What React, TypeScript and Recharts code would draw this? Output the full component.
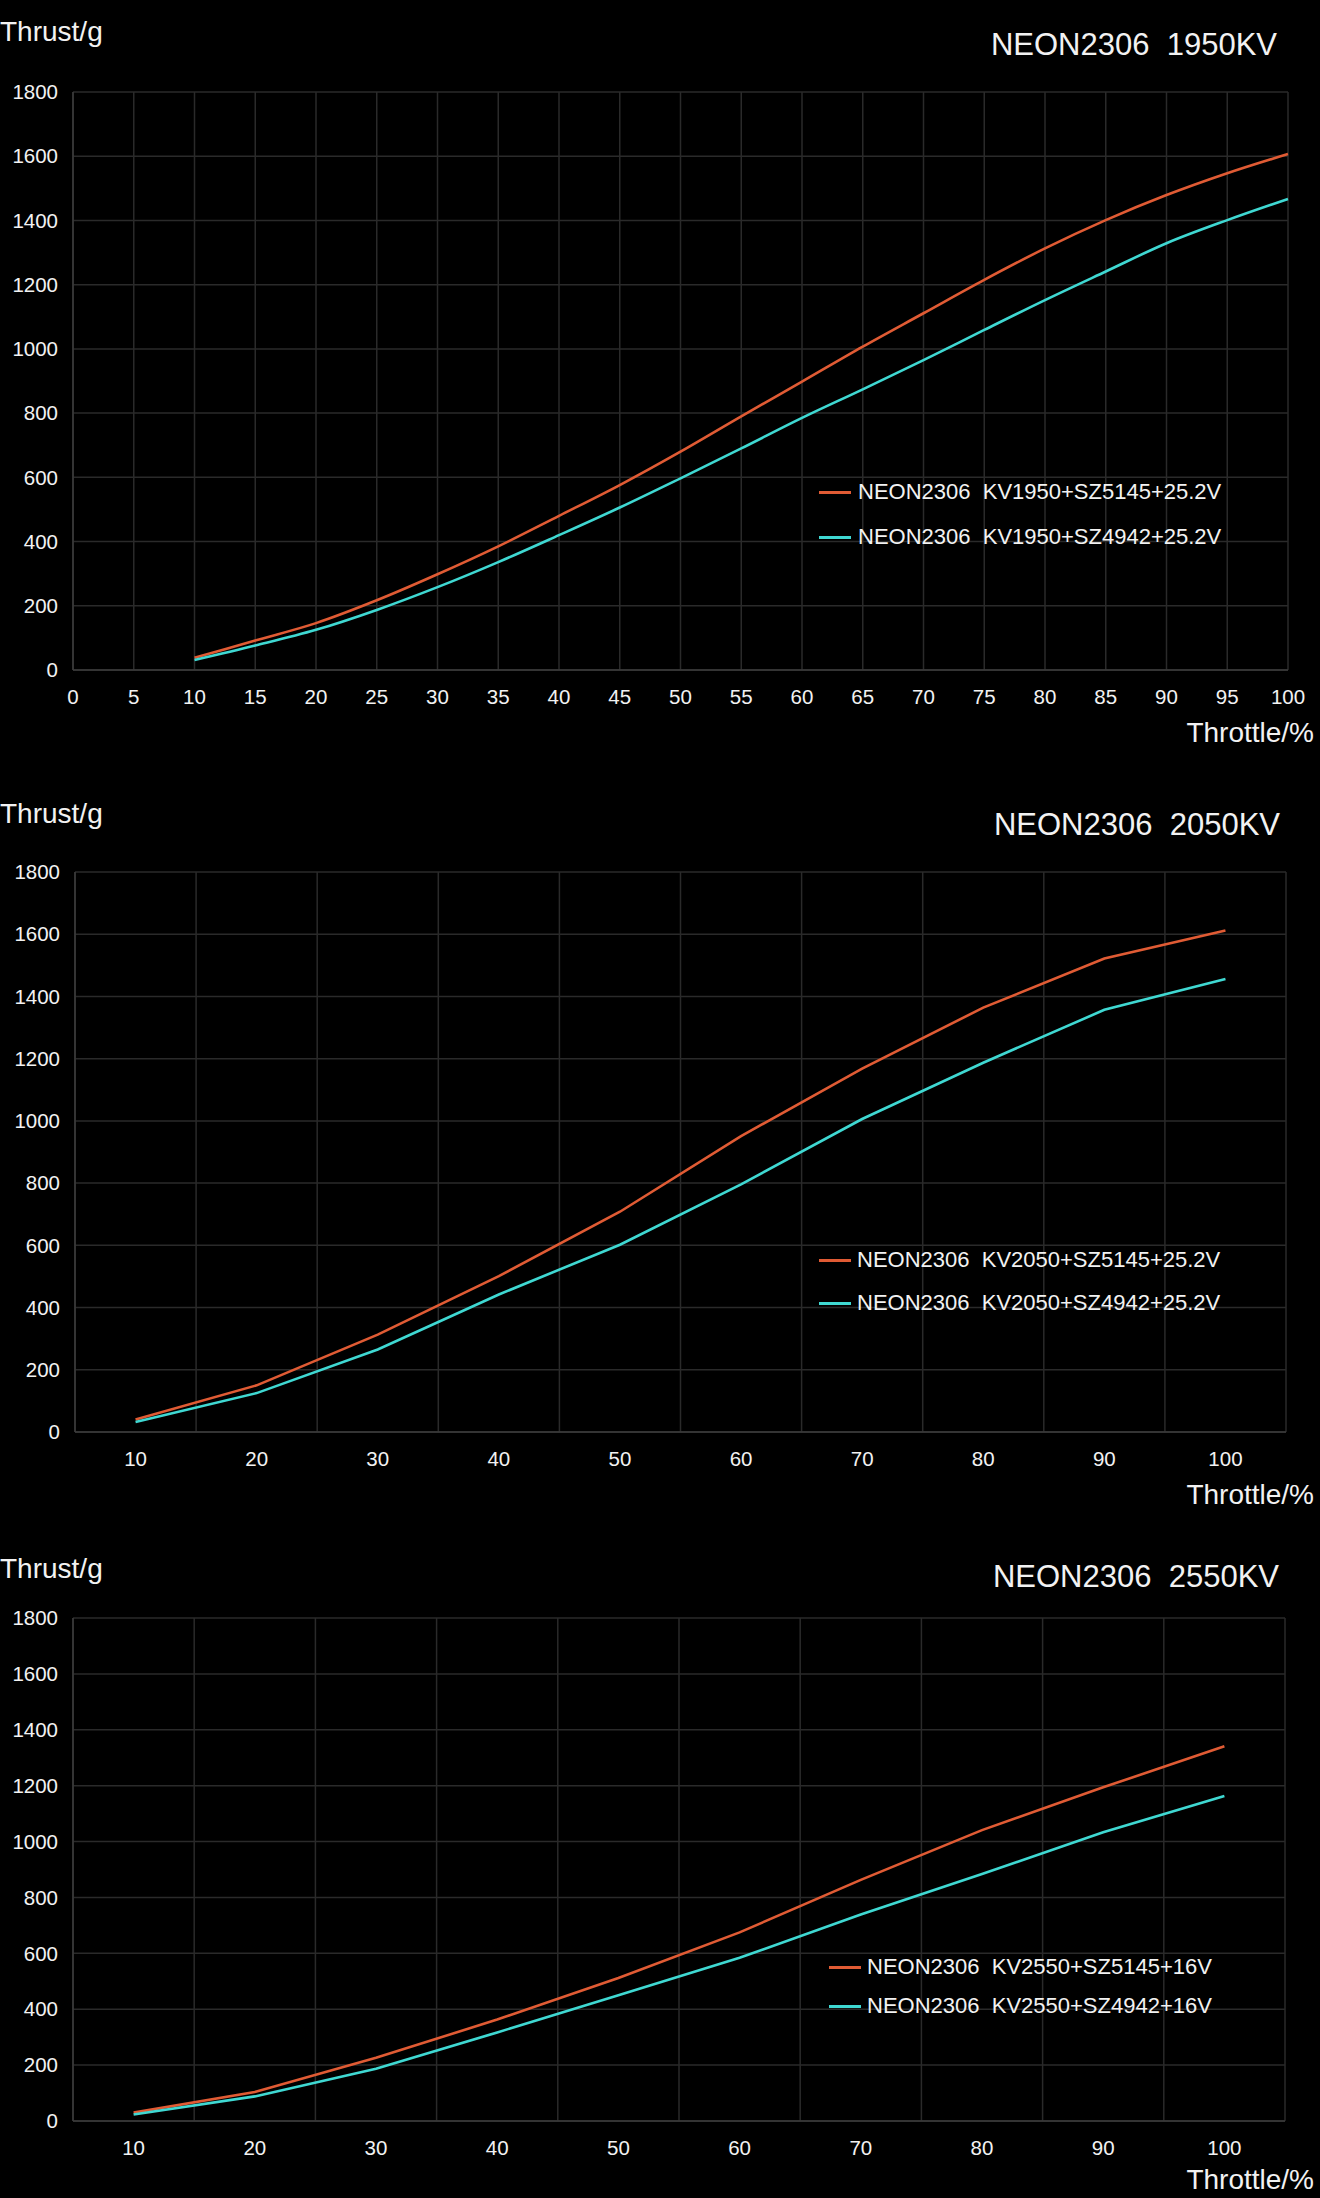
import React from "react";
import { CartesianGrid, Legend, Line, LineChart, XAxis, YAxis } from "recharts";

const FONT = '"Liberation Sans", Arial, Helvetica, sans-serif';
const ORANGE = "#E05B34";
const CYAN = "#3FD8D2";
const GRID = "#2a2a2a";
const AXIS = "#3c3c3c";
const TEXT = "#f2f2f2";

const thrustTicks = [0, 200, 400, 600, 800, 1000, 1200, 1400, 1600, 1800];

// 1950KV, 5 % steps
const throttle1950 = [10, 15, 20, 25, 30, 35, 40, 45, 50, 55, 60, 65, 70, 75, 80, 85, 90, 95, 100];
const kv1950Sz5145 = [38, 92, 146, 217, 298, 385, 480, 576, 680, 790, 898, 1007, 1111, 1215, 1313, 1401, 1479, 1547, 1607];
const kv1950Sz4942 = [31, 76, 125, 187, 258, 336, 420, 506, 597, 690, 785, 874, 965, 1059, 1152, 1241, 1329, 1401, 1467];
const ticks1950 = [0, 5, 10, 15, 20, 25, 30, 35, 40, 45, 50, 55, 60, 65, 70, 75, 80, 85, 90, 95, 100];

// 2050KV / 2550KV, 10 % steps
const throttle10 = [10, 20, 30, 40, 50, 60, 70, 80, 90, 100];
const kv2050Sz5145 = [40, 150, 313, 501, 708, 951, 1168, 1364, 1522, 1612];
const kv2050Sz4942 = [32, 125, 265, 442, 602, 796, 1006, 1187, 1357, 1456];
const kv2550Sz5145 = [30, 104, 226, 363, 512, 675, 863, 1041, 1194, 1341];
const kv2550Sz4942 = [23, 88, 187, 317, 450, 584, 739, 884, 1033, 1163];

const toRows = (xs: number[], a: number[], b: number[]) =>
  xs.map((x, i) => ({ throttle: x, a: a[i], b: b[i] }));

type PanelProps = {
  top: number;
  height: number;
  title: string;
  names: [string, string];
  data: { throttle: number; a: number; b: number }[];
  xTicks: number[];
  xDomain: [number, number];
  banded: boolean;
  curve: "monotone" | "linear";
  plot: { left: number; right: number; top: number; bottom: number };
  thrustY: number;
  titleY: number;
  titleRight: number;
  throttleY: number;
  legend: { x: number; textX: number; rows: [number, number] };
};

const X_AXIS_H = 40;

function Label({ text, size, cy, left, right }: { text: string; size: number; cy: number; left?: number; right?: number }) {
  return (
    <div
      style={{
        position: "absolute",
        top: cy - size * 0.49,
        left,
        right,
        fontSize: size,
        lineHeight: 1,
        color: TEXT,
        fontFamily: FONT,
        whiteSpace: "nowrap",
      }}
    >
      {text}
    </div>
  );
}

function Panel(p: PanelProps) {
  const { plot, legend } = p;
  const W = 1320;

  // gridlines sit on band edges for the 10 % charts
  const bandLines = ({ offset }: any) => {
    const n = p.data.length;
    const left = offset?.left ?? plot.left;
    const width = offset?.width ?? plot.right - plot.left;
    return Array.from({ length: n + 1 }, (_, i) => left + (width * i) / n);
  };

  const renderLegend = (props: any) => {
    const items = [...(props.payload ?? [])].sort((u: any, v: any) =>
      String(u.dataKey).localeCompare(String(v.dataKey))
    );
    return (
      <div style={{ position: "relative", width: 480, height: legend.rows[1] - legend.rows[0] + 30 }}>
        {items.map((it: any, i: number) => (
          <div
            key={i}
            style={{
              position: "absolute",
              top: legend.rows[i] - legend.rows[0],
              left: 0,
              height: 30,
              display: "flex",
              alignItems: "center",
            }}
          >
            <div style={{ width: 32, height: 3, background: it.color }} />
            <span
              style={{
                marginLeft: legend.textX - legend.x - 32,
                fontSize: 22,
                color: TEXT,
                fontFamily: FONT,
                whiteSpace: "nowrap",
              }}
            >
              {it.value}
            </span>
          </div>
        ))}
      </div>
    );
  };

  return (
    <div style={{ position: "absolute", top: p.top, left: 0, width: W, height: p.height, overflow: "hidden" }}>
      <LineChart
        width={W}
        height={p.height}
        data={p.data}
        margin={{ top: plot.top, right: W - plot.right, left: 0, bottom: p.height - plot.bottom - X_AXIS_H }}
        style={{ fontFamily: FONT }}
      >
        <CartesianGrid
          stroke={GRID}
          strokeWidth={1.5}
          verticalCoordinatesGenerator={p.banded ? bandLines : undefined}
        />
        <XAxis
          dataKey="throttle"
          type="number"
          domain={p.xDomain}
          ticks={p.xTicks}
          interval={0}
          height={X_AXIS_H}
          stroke={AXIS}
          strokeWidth={1.5}
          tickLine={false}
          tickMargin={13}
          tick={{ fill: TEXT, fontSize: 20.5 }}
        />
        <YAxis
          type="number"
          domain={[0, 1800]}
          ticks={thrustTicks}
          interval={0}
          width={plot.left}
          stroke={AXIS}
          strokeWidth={1.5}
          tickLine={false}
          tickMargin={9}
          tick={{ fill: TEXT, fontSize: 20.5 }}
        />
        <Legend
          layout="vertical"
          align="center"
          verticalAlign="middle"
          content={renderLegend}
          wrapperStyle={{ left: legend.x, top: legend.rows[0] - 15, width: 480 }}
        />
        <Line
          type={p.curve}
          dataKey="a"
          name={p.names[0]}
          stroke={ORANGE}
          strokeWidth={2.6}
          dot={false}
          isAnimationActive={false}
        />
        <Line
          type={p.curve}
          dataKey="b"
          name={p.names[1]}
          stroke={CYAN}
          strokeWidth={2.6}
          dot={false}
          isAnimationActive={false}
        />
      </LineChart>
      <Label text="Thrust/g" size={28} cy={p.thrustY} left={0} />
      <Label text={p.title} size={31} cy={p.titleY} right={W - p.titleRight} />
      <Label text="Throttle/%" size={28} cy={p.throttleY} right={6} />
    </div>
  );
}

export default function App() {
  return (
    <div style={{ position: "absolute", top: 0, left: 0, width: 1320, height: 2198, background: "#000", overflow: "hidden" }}>
      <Panel
        top={0}
        height={760}
        title={"NEON2306\u00a0\u00a01950KV"}
        names={["NEON2306\u00a0\u00a0KV1950+SZ5145+25.2V", "NEON2306\u00a0\u00a0KV1950+SZ4942+25.2V"]}
        data={toRows(throttle1950, kv1950Sz5145, kv1950Sz4942)}
        xTicks={ticks1950}
        xDomain={[0, 100]}
        banded={false}
        curve="monotone"
        plot={{ left: 73, right: 1288, top: 92, bottom: 670 }}
        thrustY={32}
        titleY={44}
        titleRight={1277}
        throttleY={733}
        legend={{ x: 819, textX: 858, rows: [492, 537] }}
      />
      <Panel
        top={760}
        height={760}
        title={"NEON2306\u00a0\u00a02050KV"}
        names={["NEON2306\u00a0\u00a0KV2050+SZ5145+25.2V", "NEON2306\u00a0\u00a0KV2050+SZ4942+25.2V"]}
        data={toRows(throttle10, kv2050Sz5145, kv2050Sz4942)}
        xTicks={throttle10}
        xDomain={[5, 105]}
        banded={true}
        curve="linear"
        plot={{ left: 75, right: 1286, top: 112, bottom: 672 }}
        thrustY={54}
        titleY={64}
        titleRight={1280}
        throttleY={735}
        legend={{ x: 819, textX: 857, rows: [500, 543] }}
      />
      <Panel
        top={1520}
        height={678}
        title={"NEON2306\u00a0\u00a02550KV"}
        names={["NEON2306\u00a0\u00a0KV2550+SZ5145+16V", "NEON2306\u00a0\u00a0KV2550+SZ4942+16V"]}
        data={toRows(throttle10, kv2550Sz5145, kv2550Sz4942)}
        xTicks={throttle10}
        xDomain={[5, 105]}
        banded={true}
        curve="linear"
        plot={{ left: 73, right: 1285, top: 98, bottom: 601 }}
        thrustY={49}
        titleY={56}
        titleRight={1279}
        throttleY={660}
        legend={{ x: 829, textX: 867, rows: [447, 486] }}
      />
    </div>
  );
}
